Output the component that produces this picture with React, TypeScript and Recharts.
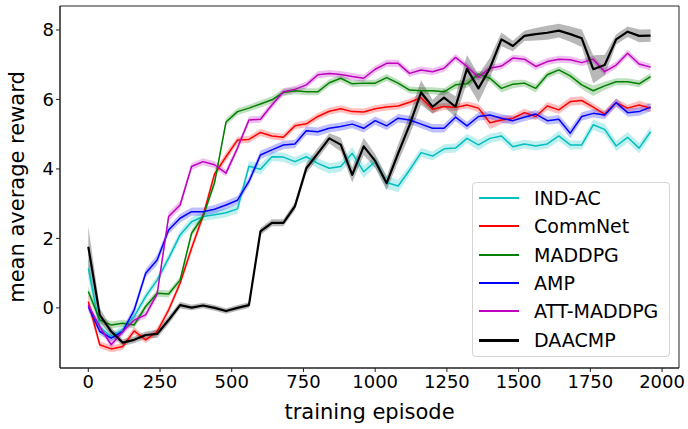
import React from 'react';
import { ComposedChart, Line, Area, XAxis, YAxis, Legend, ReferenceArea } from 'recharts';

const episodes = [0, 40, 80, 120, 160, 200, 240, 280, 320, 360, 400, 440, 480, 520, 560, 600, 640, 680, 720, 760, 800, 840, 880, 920, 960, 1000, 1040, 1080, 1120, 1160, 1200, 1240, 1280, 1320, 1360, 1400, 1440, 1480, 1520, 1560, 1600, 1640, 1680, 1720, 1760, 1800, 1840, 1880, 1920, 1960];

const indAC = [1.14, -0.55, -0.83, -0.63, -0.25, 0.33, 0.8, 1.43, 2.1, 2.48, 2.63, 2.68, 2.74, 2.85, 4.08, 3.99, 4.35, 4.34, 4.21, 4.35, 4.16, 4.02, 4.07, 4.45, 3.92, 4.21, 3.61, 3.51, 3.97, 4.47, 4.37, 4.58, 4.6, 4.88, 4.69, 4.88, 4.95, 4.64, 4.72, 4.66, 4.72, 4.95, 4.69, 4.69, 5.27, 5.14, 4.66, 4.91, 4.6, 5.07];
const commNet = [0.18, -1.06, -1.18, -1.11, -0.66, -0.92, -0.68, -0.06, 0.71, 1.72, 2.65, 3.85, 4.35, 4.83, 4.85, 5.05, 4.95, 4.91, 5.24, 5.3, 5.51, 5.66, 5.73, 5.65, 5.64, 5.73, 5.78, 5.81, 5.92, 6.05, 5.72, 5.8, 5.77, 5.84, 5.75, 5.33, 5.41, 5.46, 5.62, 5.51, 5.81, 5.7, 5.94, 5.97, 5.78, 5.58, 5.91, 5.75, 5.84, 5.75];
const maddpg = [0.47, -0.35, -0.49, -0.44, -0.49, 0.04, 0.42, 0.4, 0.8, 2.15, 2.63, 3.6, 5.35, 5.65, 5.75, 5.87, 5.99, 6.2, 6.25, 6.22, 6.22, 6.48, 6.61, 6.45, 6.47, 6.47, 6.63, 6.47, 6.27, 6.25, 6.25, 6.22, 6.42, 6.45, 6.73, 6.61, 6.32, 6.44, 6.47, 6.32, 6.71, 6.85, 6.68, 6.42, 6.25, 6.39, 6.51, 6.51, 6.45, 6.66];
const amp = [0.04, -0.68, -0.87, -0.68, -0.06, 1.0, 1.38, 2.24, 2.58, 2.77, 2.77, 2.84, 2.96, 3.1, 3.64, 4.4, 4.55, 4.69, 4.72, 5.1, 5.07, 5.17, 5.22, 5.29, 5.17, 5.39, 5.24, 5.46, 5.41, 5.29, 5.17, 5.17, 5.49, 5.24, 5.51, 5.55, 5.46, 5.39, 5.49, 5.58, 5.39, 5.43, 5.03, 5.51, 5.6, 5.55, 5.91, 5.62, 5.65, 5.78];
const attMaddpg = [0.08, -0.54, -1.06, -0.68, -0.35, -0.2, 0.4, 2.63, 2.96, 4.07, 4.21, 4.12, 3.88, 4.6, 5.41, 5.43, 5.84, 6.22, 6.29, 6.42, 6.71, 6.75, 6.72, 6.66, 6.61, 6.87, 7.04, 7.04, 6.75, 6.85, 6.8, 6.9, 7.21, 6.95, 6.64, 6.9, 6.96, 7.19, 7.16, 6.95, 7.09, 7.16, 7.14, 7.06, 7.16, 6.8, 6.99, 7.33, 7.02, 6.93];
const daacmp = [1.76, -0.2, -0.68, -1.0, -0.92, -0.78, -0.75, -0.35, 0.08, 0.01, 0.07, 0.0, -0.09, 0.0, 0.08, 2.2, 2.45, 2.45, 2.92, 4.02, 4.45, 4.88, 4.7, 3.83, 4.65, 4.23, 3.59, 4.45, 5.27, 6.2, 5.79, 6.05, 5.79, 6.88, 6.32, 6.9, 7.73, 7.54, 7.83, 7.88, 7.92, 7.98, 7.88, 7.76, 6.87, 6.99, 7.73, 7.95, 7.83, 7.84];

const indACSpread = [0.3, 0.15, 0.12, 0.12, 0.12, 0.12, 0.12, 0.13, 0.13, 0.13, 0.13, 0.13, 0.13, 0.13, 0.15, 0.15, 0.13, 0.13, 0.13, 0.13, 0.15, 0.15, 0.15, 0.18, 0.18, 0.15, 0.18, 0.18, 0.15, 0.13, 0.13, 0.13, 0.13, 0.13, 0.15, 0.13, 0.13, 0.13, 0.13, 0.13, 0.13, 0.15, 0.13, 0.13, 0.15, 0.15, 0.15, 0.15, 0.15, 0.15];
const commNetSpread = [0.2, 0.1, 0.1, 0.1, 0.1, 0.1, 0.1, 0.1, 0.1, 0.12, 0.12, 0.12, 0.12, 0.1, 0.1, 0.1, 0.1, 0.1, 0.1, 0.1, 0.1, 0.1, 0.1, 0.1, 0.1, 0.1, 0.1, 0.1, 0.1, 0.12, 0.12, 0.1, 0.1, 0.1, 0.12, 0.18, 0.12, 0.1, 0.12, 0.1, 0.12, 0.12, 0.12, 0.12, 0.1, 0.1, 0.12, 0.1, 0.12, 0.12];
const maddpgSpread = [0.15, 0.1, 0.1, 0.1, 0.1, 0.1, 0.1, 0.1, 0.1, 0.1, 0.1, 0.1, 0.1, 0.1, 0.1, 0.1, 0.1, 0.1, 0.1, 0.1, 0.1, 0.1, 0.1, 0.1, 0.1, 0.1, 0.1, 0.1, 0.1, 0.1, 0.1, 0.1, 0.12, 0.12, 0.1, 0.1, 0.12, 0.12, 0.1, 0.12, 0.1, 0.1, 0.12, 0.12, 0.15, 0.12, 0.1, 0.1, 0.1, 0.1];
const ampSpread = [0.12, 0.1, 0.1, 0.1, 0.12, 0.12, 0.15, 0.12, 0.12, 0.12, 0.12, 0.12, 0.12, 0.12, 0.12, 0.12, 0.12, 0.12, 0.12, 0.12, 0.12, 0.12, 0.12, 0.12, 0.12, 0.12, 0.12, 0.12, 0.12, 0.12, 0.12, 0.12, 0.12, 0.12, 0.12, 0.12, 0.12, 0.12, 0.12, 0.12, 0.12, 0.12, 0.15, 0.12, 0.12, 0.12, 0.12, 0.12, 0.12, 0.12];
const attMaddpgSpread = [0.12, 0.1, 0.1, 0.1, 0.1, 0.1, 0.1, 0.12, 0.12, 0.1, 0.1, 0.1, 0.1, 0.1, 0.1, 0.1, 0.1, 0.1, 0.1, 0.1, 0.1, 0.1, 0.1, 0.1, 0.1, 0.1, 0.1, 0.1, 0.1, 0.1, 0.1, 0.1, 0.1, 0.1, 0.1, 0.1, 0.1, 0.1, 0.1, 0.1, 0.1, 0.1, 0.1, 0.1, 0.1, 0.1, 0.1, 0.1, 0.1, 0.1];
const daacmpSpread = [0.6, 0.2, 0.12, 0.1, 0.1, 0.1, 0.12, 0.12, 0.1, 0.08, 0.08, 0.08, 0.08, 0.08, 0.08, 0.1, 0.1, 0.1, 0.12, 0.15, 0.15, 0.15, 0.2, 0.22, 0.25, 0.2, 0.2, 0.25, 0.3, 0.35, 0.2, 0.25, 0.3, 0.4, 0.4, 0.3, 0.2, 0.15, 0.15, 0.18, 0.2, 0.2, 0.22, 0.25, 0.4, 0.3, 0.15, 0.15, 0.18, 0.18];

const seriesNames = ['IND-AC', 'CommNet', 'MADDPG', 'AMP', 'ATT-MADDPG', 'DAACMP'];
const seriesValues = [indAC, commNet, maddpg, amp, attMaddpg, daacmp];
const seriesSpreads = [indACSpread, commNetSpread, maddpgSpread, ampSpread, attMaddpgSpread, daacmpSpread];
const seriesColors = ['#00bfbf', '#ff0000', '#008000', '#0000ff', '#bf00bf', '#000000'];
const seriesWidths = [1.5, 1.5, 1.5, 1.5, 1.5, 2.2];
const legendSampleHeights = [2, 2, 2, 2, 2, 3];
const xTicks = [0, 250, 500, 750, 1000, 1250, 1500, 1750, 2000];
const yTicks = [0, 2, 4, 6, 8];

const X_DOMAIN: [number, number] = [-98.6, 2059];
const Y_DOMAIN: [number, number] = [-1.73, 8.69];

const data = episodes.map((ep, i) => {
  const row: Record<string, any> = { ep };
  seriesValues.forEach((vals, k) => {
    row['s' + k] = vals[i];
    row['b' + k] = [vals[i] - seriesSpreads[k][i], vals[i] + seriesSpreads[k][i]];
  });
  return row;
});

const FONT = 'DejaVu Sans, sans-serif';

const renderLegend = () => (
  <div
    style={{
      width: 198,
      height: 175,
      boxSizing: 'border-box',
      border: '1px solid #d4d4d4',
      borderRadius: 4,
      background: 'rgba(255,255,255,0.8)',
      paddingTop: 1,
      fontFamily: FONT,
      fontSize: 19,
      color: '#000',
    }}
  >
    {seriesNames.map((name, k) => (
      <div key={name} style={{ position: 'relative', height: 28.33 }}>
        <div
          style={{
            position: 'absolute',
            left: 6,
            width: 40,
            top: 14 - Math.floor(legendSampleHeights[k] / 2),
            height: legendSampleHeights[k],
            background: seriesColors[k],
          }}
        />
        <span style={{ position: 'absolute', left: 61, top: 0, lineHeight: '28.33px', whiteSpace: 'nowrap' }}>{name}</span>
      </div>
    ))}
  </div>
);

export default function App() {
  return (
    <div style={{ position: 'absolute', left: 0, top: 0, width: 688, height: 429, background: '#fff' }}>
      <ComposedChart width={688} height={429} data={data} margin={{ top: 6, right: 9, left: 0, bottom: 0 }}>
        <XAxis
          dataKey="ep"
          type="number"
          domain={X_DOMAIN}
          ticks={xTicks}
          allowDataOverflow
          height={61}
          tickSize={4}
          tickMargin={3}
          axisLine={{ stroke: '#222' }}
          tickLine={{ stroke: '#222' }}
          tick={{ fontFamily: FONT, fontSize: 18, fill: '#000' }}
          label={{
            content: () => (
              <text x={369.5} y={419} textAnchor="middle" fontFamily={FONT} fontSize={21} fill="#000">
                training episode
              </text>
            ),
          }}
        />
        <YAxis
          type="number"
          domain={Y_DOMAIN}
          ticks={yTicks}
          allowDataOverflow
          width={60}
          tickSize={4}
          tickMargin={2}
          axisLine={{ stroke: '#222' }}
          tickLine={{ stroke: '#222' }}
          tick={{ fontFamily: FONT, fontSize: 18, fill: '#000' }}
          label={{
            content: () => (
              <text x={24} y={187} textAnchor="middle" transform="rotate(-90, 24, 187)" fontFamily={FONT} fontSize={21} fill="#000">
                mean average reward
              </text>
            ),
          }}
        />
        <ReferenceArea x1={X_DOMAIN[0]} x2={X_DOMAIN[1]} y1={Y_DOMAIN[0]} y2={Y_DOMAIN[1]} fill="none" stroke="#222" strokeWidth={1} ifOverflow="visible" />
        {seriesNames.map((name, k) => (
          <Area
            key={'a' + k}
            dataKey={'b' + k}
            type="linear"
            stroke="none"
            fill={seriesColors[k]}
            fillOpacity={k === 5 ? 0.28 : 0.25}
            isAnimationActive={false}
            legendType="none"
            activeDot={false}
          />
        ))}
        {seriesNames.map((name, k) => (
          <Line
            key={'l' + k}
            dataKey={'s' + k}
            name={name}
            type="linear"
            stroke={seriesColors[k]}
            strokeWidth={seriesWidths[k]}
            strokeLinejoin="round"
            dot={false}
            activeDot={false}
            isAnimationActive={false}
          />
        ))}
        <Legend
          layout="vertical"
          align="center"
          verticalAlign="middle"
          content={renderLegend}
          wrapperStyle={{ left: 472, top: 182, width: 198, height: 175 }}
        />
      </ComposedChart>
    </div>
  );
}
